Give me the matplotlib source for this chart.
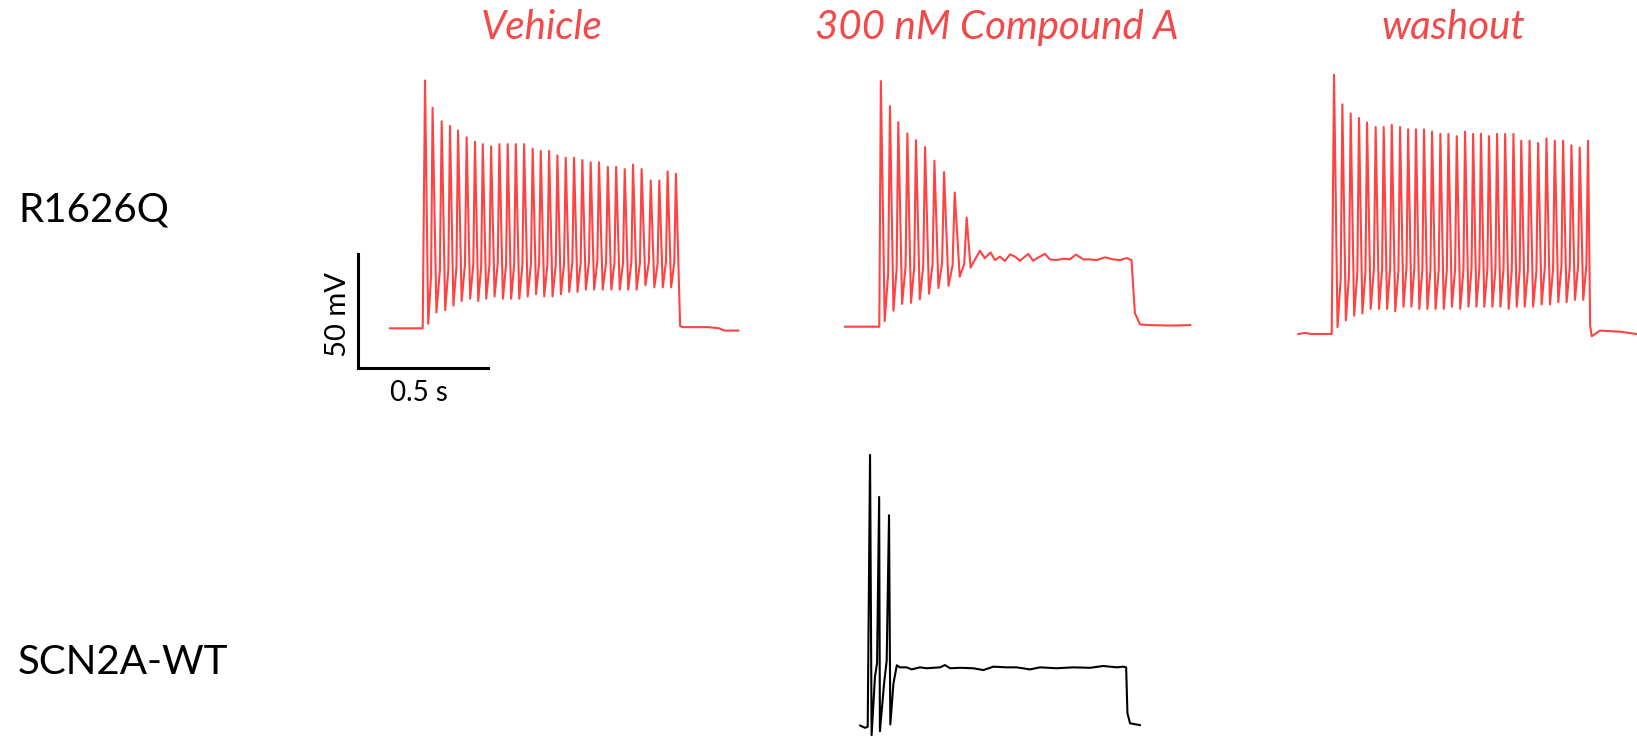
import numpy as np
import matplotlib.pyplot as plt

# --- data (ms from step onset, mV) ---
REST = -70

# Vehicle
veh_spike_t = [9, 38, 73, 105, 136, 169, 201, 231, 263, 295, 327, 358, 390, 423, 454, 486,
               518, 550, 582, 614, 646, 678, 712, 744, 777, 809, 842, 877, 910, 942, 974]
veh_peaks = [39, 27, 21, 19, 17, 14, 12, 11, 10, 11, 11, 11, 11, 9, 8, 8,
             6, 5, 5, 4, 3, 3, 1, 1, 0, 2, 0, -5, -5, -1, -2]
veh_troughs = [-68, -63, -62, -60, -58, -57, -58, -57, -56, -57, -57, -57, -56, -55, -56,
               -56, -55, -54, -54, -53, -53, -53, -53, -53, -53, -53, -51, -52, -52, -52]
veh_pre_t = [-126, -60, 0]
veh_pre_v = [-70, -70, -70]
veh_post_t = [990, 1000, 1100, 1140, 1160, 1214]
veh_post_v = [-69, -69.5, -69.5, -70, -71, -71]

# 300 nM Compound A
cmpA_spike_t = [6, 41, 73, 108, 141, 176, 212, 249, 290, 336]
cmpA_peaks = [38, 27, 20, 15, 12, 9, 3, -2, -11, -22]
cmpA_troughs = [-67.5, -63, -60, -59.5, -58, -55.5, -53, -52, -48, -44]
cmpA_pre_t = [-132, -60, 0]
cmpA_pre_v = [-70, -70, -70]
cmpA_post_t = [387, 406, 428, 445, 464, 483, 503, 522, 541, 560, 573, 592, 612, 637,
               656, 682, 708, 733, 756, 785, 810, 836, 868, 900, 926, 951, 970, 983, 1003,
               1041, 1120, 1196]
cmpA_post_v = [-36.6, -39.9, -37.3, -40.7, -39.2, -41.1, -38.2, -39.2, -41.0, -39.2, -38.0,
               -41.0, -39.5, -38.0, -40.4, -40.7, -40.1, -40.4, -38.3, -40.4, -40.4, -40.7,
               -39.5, -40.4, -40.7, -39.8, -40.7, -64, -69, -69.3, -69.5, -69.3]

# washout
wash_spike_t = [9, 41, 73, 105, 136, 169, 200, 231, 263, 294, 324, 355, 386, 418, 449, 481,
                513, 544, 574, 605, 636, 667, 699, 729, 761, 794, 826, 858, 890, 922, 954, 986]
wash_peaks = [44, 31, 27, 25, 23, 21, 21, 22, 21, 20, 20, 20, 19, 18, 18, 17,
              19, 18, 18, 17, 18, 18, 18, 15, 15, 14, 16, 15, 15, 13, 12, 15]
wash_troughs = [-67, -64, -62, -61, -59, -59, -59, -60, -58, -58, -59, -59, -59, -59, -58, -59,
                -58, -58, -58, -58, -58, -59, -58, -58, -58, -57, -57, -56, -56, -55, -55]
wash_pre_t = [-128, -100, -80, 0]
wash_pre_v = [-70, -69.5, -70, -70]
wash_post_t = [994, 1000, 1032, 1109, 1173]
wash_post_v = [-66, -71, -68.5, -69, -70]

# SCN2A-WT, 300 nM Compound A
wt_t = [-29, -10, 0, 9, 15, 28, 36, 44, 47, 63, 73, 82, 87, 99, 112, 124, 150, 169, 201,
        227, 278, 297, 317, 355, 406, 445, 483, 535, 573, 624, 663, 727, 791, 855, 906,
        958, 983, 994, 999, 1009, 1047]
wt_v = [-69.5, -70.5, -70, 49.5, -73.7, -48, -42, 31, -72, -51, -41, 23, -69, -51, -43,
        -43.9, -43.9, -44.8, -43.9, -44.3, -43.9, -42.9, -44.3, -44.1, -44.3, -45.1, -43.6,
        -43.9, -43.9, -44.8, -43.9, -44.3, -43.9, -44.1, -43.3, -43.9, -43.6, -43.9, -64.1,
        -68.5, -69.3]

titles = ['Vehicle', '300 nM Compound A', 'washout']
row_labels = ['R1626Q', 'SCN2A-WT']

# --- layout (pixels) ---
MS_PER_PX = 500 / 130.0
MV_PER_PX = 50 / 113.7
RED = '#FF4242'


def train(spike_t, peaks, troughs, pre_t, pre_v, post_t, post_v):
    t = list(pre_t)
    v = list(pre_v)
    for k in range(len(spike_t)):
        t.append(spike_t[k])
        v.append(peaks[k])
        if k < len(troughs) and k + 1 < len(spike_t):
            isi = spike_t[k + 1] - spike_t[k]
            t.append(spike_t[k] + 0.42 * isi)
            v.append(troughs[k])
            t.append(spike_t[k] + 0.8 * isi)
            v.append(troughs[k] + 0.22 * (peaks[k + 1] - troughs[k]))
        elif k < len(troughs):
            t.append(spike_t[k] + 15)
            v.append(troughs[k])
    t += list(post_t)
    v += list(post_v)
    return np.array(t, float), np.array(v, float)


def draw(ax, t, v, x0, y0, color):
    ax.plot(x0 + t / MS_PER_PX, y0 - (v - REST) / MV_PER_PX, color=color, lw=1.5,
            solid_joinstyle='round')


fig = plt.figure(figsize=(16.37, 7.37), dpi=100)
ax = fig.add_axes([0, 0, 1, 1])
ax.set_xlim(0, 1637)
ax.set_ylim(737, 0)
ax.axis('off')

t, v = train(veh_spike_t, veh_peaks, veh_troughs, veh_pre_t, veh_pre_v, veh_post_t, veh_post_v)
draw(ax, t, v, 422.7, 328.3, RED)
t, v = train(cmpA_spike_t, cmpA_peaks, cmpA_troughs, cmpA_pre_t, cmpA_pre_v, cmpA_post_t, cmpA_post_v)
draw(ax, t, v, 879.3, 326.7, RED)
t, v = train(wash_spike_t, wash_peaks, wash_troughs, wash_pre_t, wash_pre_v, wash_post_t, wash_post_v)
draw(ax, t, v, 1331.7, 334.0, RED)
draw(ax, np.array(wt_t, float), np.array(wt_v, float), 867.7, 726.7, 'black')

# scale bar: 50 mV, 0.5 s
ax.plot([358, 358, 358 + 500 / MS_PER_PX], [367.7 - 50 / MV_PER_PX, 367.7, 367.7],
        color='black', lw=2.2, solid_joinstyle='miter')
ax.text(338, 314, '50 mV', rotation=90, ha='center', va='center', fontsize=21, family='Lato')
ax.text(419, 393, '0.5 s', ha='center', va='center', fontsize=20, family='Lato')

for x, s in zip([542, 997, 1453], titles):
    ax.text(x, 27, s, ha='center', va='center', fontsize=29, style='italic',
            family='Lato', color='#F24A4A')

ax.text(18, 210, row_labels[0], ha='left', va='center', fontsize=29, family='Lato')
ax.text(18, 662, row_labels[1], ha='left', va='center', fontsize=29, family='Lato')

fig.savefig('out.png', dpi=100)
